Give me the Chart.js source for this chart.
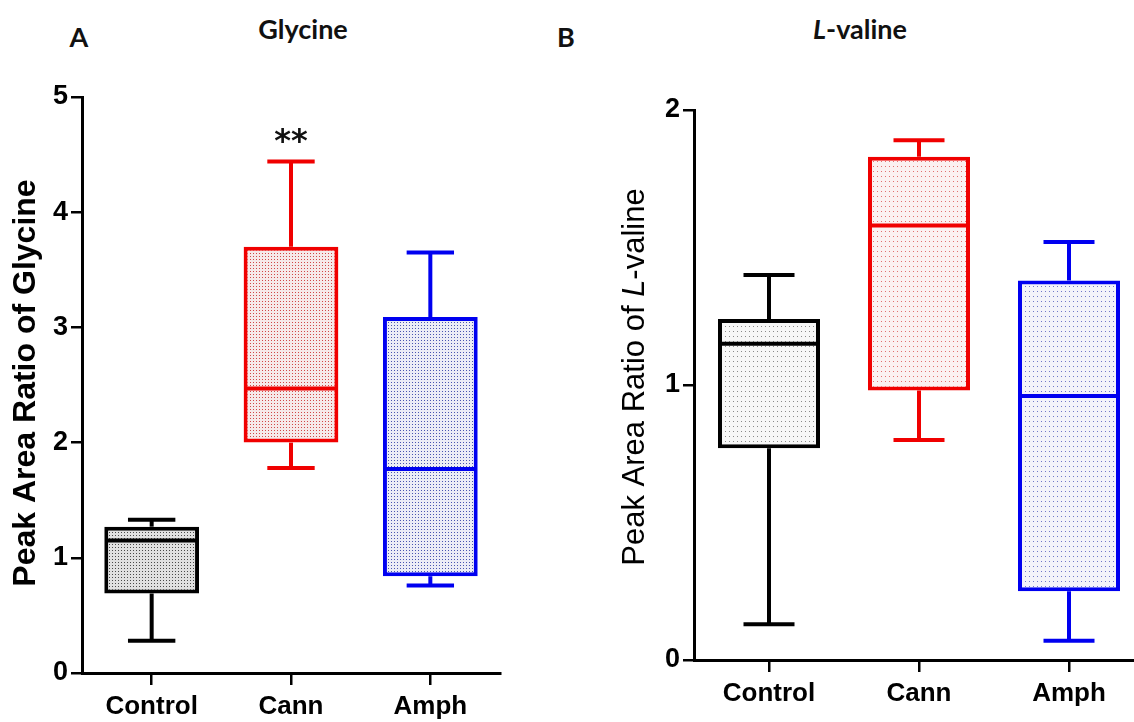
<!DOCTYPE html>
<html>
<head>
<meta charset="utf-8">
<title>Glycine and L-valine peak area ratios</title>
<script src="https://cdn.jsdelivr.net/npm/chart.js@4.4.1/dist/chart.umd.min.js"></script>
<style>
  html, body { margin: 0; padding: 0; background: #fff; overflow: hidden; }
  body { width: 1134px; height: 722px; position: relative; }
  canvas { position: absolute; top: 0; }
  #chartA { left: 0; }
  #chartB { left: 560px; }
  .head { position: absolute; font-family: Lato, "Open Sans", sans-serif; font-weight: bold;
          color: #111; white-space: nowrap; line-height: 1; transform: translateX(-50%); }
</style>
</head>
<body>
<div class="head" style="left:79px;top:23px;font-size:27px">A</div>
<div class="head" style="left:303px;top:15px;font-size:27px">Glycine</div>
<div class="head" style="left:566px;top:23px;font-size:27px">B</div>
<div class="head" style="left:860px;top:15px;font-size:27px"><i>L</i>-valine</div>
<canvas id="chartA" width="560" height="722"></canvas>
<canvas id="chartB" width="600" height="722"></canvas>
<script>
const groups = ['Control', 'Cann', 'Amph'];
const groupColors = ['#000000', '#f00000', '#0000f0'];

// Glycine: whisker ends, quartiles, medians
const glyMin = [0.28, 1.78, 0.76];
const glyQ1  = [0.69, 2.00, 0.84];
const glyMed = [1.15, 2.47, 1.77];
const glyQ3  = [1.27, 3.70, 3.09];
const glyMax = [1.33, 4.44, 3.65];
const glyStars = ['', '**', ''];
const glyTicks = [0, 1, 2, 3, 4, 5];

// L-valine
const valMin = [0.13, 0.80, 0.07];
const valQ1  = [0.77, 0.98, 0.25];
const valMed = [1.15, 1.58, 0.96];
const valQ3  = [1.24, 1.83, 1.38];
const valMax = [1.40, 1.89, 1.52];
const valStars = ['', '', ''];
const valTicks = [0, 1, 2];

const AXIS_FONT = '"Liberation Sans", Arial, sans-serif';

// stippled fill for the boxes
function dots(bg, dot, w, h) {
  const c = document.createElement('canvas');
  c.width = w; c.height = h;
  const g = c.getContext('2d');
  g.fillStyle = bg;
  g.fillRect(0, 0, w, h);
  g.fillStyle = dot;
  g.fillRect(1, 1, 1, 1);
  return g.createPattern(c, 'repeat');
}

// whiskers, caps, medians and significance marks on top of the floating bars
const boxPlot = {
  id: 'boxPlot',
  afterDatasetsDraw(chart, args, o) {
    const { ctx, scales: { x, y } } = chart;
    const meta = chart.getDatasetMeta(0);
    ctx.save();
    ctx.lineWidth = o.lineWidth;
    ctx.lineCap = 'butt';
    const seg = (x1, y1, x2, y2) => { ctx.beginPath(); ctx.moveTo(x1, y1); ctx.lineTo(x2, y2); ctx.stroke(); };
    o.med.forEach((m, i) => {
      const bar = meta.data[i];
      const cx = x.getPixelForValue(i);
      const half = bar.width / 2;
      const cap = bar.width * o.capRatio / 2;
      ctx.strokeStyle = o.colors[i];
      const yMed = y.getPixelForValue(m);
      seg(cx - half + 2, yMed, cx + half - 2, yMed);
      const yQ3 = y.getPixelForValue(o.q3[i]);
      const yMax = y.getPixelForValue(o.max[i]);
      seg(cx, yQ3, cx, yMax);
      seg(cx - cap, yMax, cx + cap, yMax);
      const yQ1 = y.getPixelForValue(o.q1[i]);
      const yMin = y.getPixelForValue(o.min[i]);
      seg(cx, yQ1, cx, yMin);
      seg(cx - cap, yMin, cx + cap, yMin);
      if (o.stars[i]) {
        ctx.fillStyle = '#111';
        ctx.font = 'bold 32px "DejaVu Sans", sans-serif';
        ctx.textAlign = 'center';
        ctx.textBaseline = 'alphabetic';
        ctx.fillText(o.stars[i], cx, yMax - 11);
      }
    });
    ctx.restore();
  }
};

// rotated y-axis title made of differently styled runs
const axisTitle = {
  id: 'axisTitle',
  afterDraw(chart, args, o) {
    const { ctx, chartArea } = chart;
    ctx.save();
    const widths = o.runs.map(r => { ctx.font = r.font; return ctx.measureText(r.text).width; });
    const total = widths.reduce((a, b) => a + b, 0);
    ctx.translate(o.x, (chartArea.top + chartArea.bottom) / 2 + o.dy);
    ctx.rotate(-Math.PI / 2);
    ctx.fillStyle = '#000';
    ctx.textBaseline = 'middle';
    ctx.textAlign = 'left';
    let pos = -total / 2;
    o.runs.forEach((r, i) => { ctx.font = r.font; ctx.fillText(r.text, pos, 0); pos += widths[i]; });
    ctx.restore();
  }
};

function boxChart(id, s) {
  const ctx = document.getElementById(id).getContext('2d');
  return new Chart(ctx, {
    type: 'bar',
    data: {
      labels: groups,
      datasets: [{
        data: groups.map((g, i) => [s.q1[i], s.q3[i]]),
        backgroundColor: s.fills,
        borderColor: groupColors,
        borderWidth: 4,
        borderSkipped: false,
        barPercentage: 0.68,
        categoryPercentage: 1
      }]
    },
    plugins: [boxPlot, axisTitle],
    options: {
      responsive: false,
      animation: false,
      layout: { padding: { top: s.top, right: s.right, left: 0, bottom: 0 } },
      plugins: {
        legend: { display: false },
        tooltip: { enabled: false },
        boxPlot: {
          min: s.min, q1: s.q1, med: s.med, q3: s.q3, max: s.max, stars: s.stars,
          colors: groupColors, lineWidth: 4, capRatio: 0.5
        },
        axisTitle: { runs: s.title, x: s.titleX, dy: s.titleDy }
      },
      scales: {
        x: {
          offset: true,
          grid: { drawOnChartArea: false, offset: false, tickLength: 12, color: '#000', lineWidth: 2.5 },
          border: { color: '#000', width: 3 },
          ticks: { color: '#000', padding: 6, font: { family: AXIS_FONT, size: 26, weight: 'bold' } },
          afterFit: sc => { sc.height = s.xHeight; }
        },
        y: {
          min: 0,
          max: s.ticks[s.ticks.length - 1],
          afterBuildTicks: sc => { sc.ticks = s.ticks.map(v => ({ value: v })); },
          grid: { drawOnChartArea: false, tickLength: 11, color: '#000', lineWidth: 2.5 },
          border: { color: '#000', width: 3 },
          ticks: { color: '#000', padding: 3, font: { family: AXIS_FONT, size: 27, weight: 'bold' } },
          afterFit: sc => { sc.width = s.yWidth; }
        }
      }
    }
  });
}

boxChart('chartA', {
  min: glyMin, q1: glyQ1, med: glyMed, q3: glyQ3, max: glyMax, stars: glyStars, ticks: glyTicks,
  fills: [dots('#e0e0e0', '#4a4a4a', 3, 3), dots('#f6e9e9', '#d04848', 3, 3), dots('#ececf6', '#4a55b0', 3, 3)],
  top: 97, right: 60, xHeight: 49, yWidth: 82,
  title: [{ text: 'Peak Area Ratio of Glycine', font: 'bold 32px ' + AXIS_FONT }],
  titleX: 26, titleDy: -2
});

boxChart('chartB', {
  min: valMin, q1: valQ1, med: valMed, q3: valQ3, max: valMax, stars: valStars, ticks: valTicks,
  fills: [dots('#f7f7f7', '#8a8a8a', 4, 5), dots('#fbf1f1', '#e07070', 4, 5), dots('#f3f3fa', '#7078c8', 4, 5)],
  top: 110, right: 16, xHeight: 62, yWidth: 134,
  title: [
    { text: 'Peak Area Ratio of ', font: '31px ' + AXIS_FONT },
    { text: 'L', font: 'italic 31px ' + AXIS_FONT },
    { text: '-valine', font: '31px ' + AXIS_FONT }
  ],
  titleX: 75, titleDy: -8
});
</script>
</body>
</html>
